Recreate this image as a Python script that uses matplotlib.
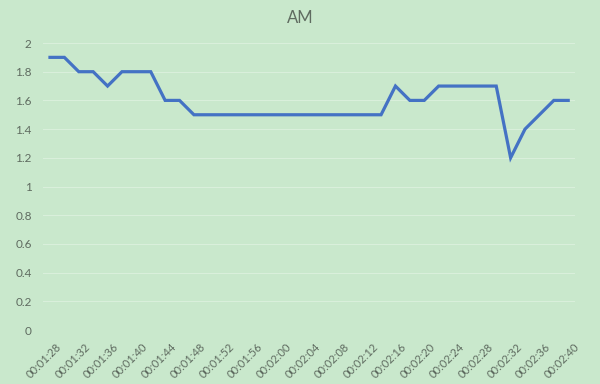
import matplotlib.pyplot as plt
import matplotlib.transforms as mtransforms
import numpy as np

# readings every 2 seconds, 00:01:28 .. 00:02:40
times = ["00:01:%02d" % s for s in range(28, 60, 2)] + ["00:02:%02d" % s for s in range(0, 42, 2)]
values = [1.9, 1.9, 1.8, 1.8, 1.7, 1.8, 1.8, 1.8, 1.6, 1.6,
          1.5, 1.5, 1.5, 1.5, 1.5, 1.5, 1.5, 1.5, 1.5, 1.5, 1.5, 1.5, 1.5, 1.5,
          1.7, 1.6, 1.6, 1.7, 1.7, 1.7, 1.7, 1.7, 1.2, 1.4, 1.5, 1.6, 1.6]
y_ticks = [0, 0.2, 0.4, 0.6, 0.8, 1, 1.2, 1.4, 1.6, 1.8, 2]
y_labels = ["0", "0.2", "0.4", "0.6", "0.8", "1", "1.2", "1.4", "1.6", "1.8", "2"]

bg = '#C9E8CC'
txt = '#5f6b60'

fig = plt.figure(figsize=(6, 3.84), dpi=100, facecolor=bg)
ax = fig.add_axes([0.0713, 0.1406, 0.8877, 0.7474], facecolor=bg)

x = np.arange(len(values))
ax.plot(x, values, color='#4472C4', linewidth=2.3, solid_joinstyle='miter')

ax.set_xlim(-0.5, len(values) - 0.5)
ax.set_ylim(0, 2)
ax.set_yticks(y_ticks)
ax.set_yticklabels(y_labels, fontsize=8.5, color=txt, family='Lato')
ax.set_xticks(x[::2])
ax.set_xticklabels(times[::2], rotation=45, ha='right', rotation_mode='anchor',
                   fontsize=8, color=txt, family='Lato')
ax.tick_params(axis='both', length=0)
ax.tick_params(axis='y', pad=8)
ax.tick_params(axis='x', pad=8)
shift = mtransforms.ScaledTranslation(4 / 72, 0, fig.dpi_scale_trans)
for lbl in ax.get_xticklabels():
    lbl.set_transform(lbl.get_transform() + shift)

ax.grid(axis='y', color='#D9EFDB', linewidth=0.8)
for s in ax.spines.values():
    s.set_visible(False)

fig.text(0.5, 0.952, "AM", ha='center', va='center', fontsize=12, color=txt, family='Lato')

fig.savefig('out.png', dpi=100, facecolor=bg)
